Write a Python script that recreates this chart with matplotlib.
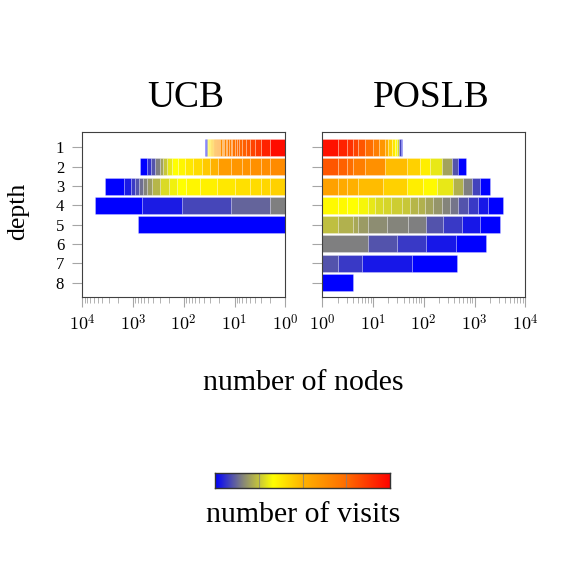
import numpy as np
import matplotlib
matplotlib.use('Agg')
import matplotlib.pyplot as plt
from matplotlib.colors import LinearSegmentedColormap
from matplotlib.ticker import LogLocator, FuncFormatter, NullFormatter

plt.rcParams['font.family'] = 'serif'
plt.rcParams['font.serif'] = ['Liberation Serif', 'DejaVu Serif']
plt.rcParams['mathtext.fontset'] = 'cm'

# 数据: 每个深度的节点组 (节点数, 访问次数等级 0..1), 从访问最多的开始
depths = [1, 2, 3, 4, 5, 6, 7, 8]

ucb_counts = [
    [1] * 37,
    [1, 1, 2, 2, 5, 9, 9, 14, 21, 30, 35, 43, 37, 42, 48, 69, 81, 88, 192],
    [1, 1, 2, 5, 12, 26, 42, 48, 62, 95, 125, 110, 100, 150, 135, 185, 410, 2060],
    [1, 10, 98, 547, 4963],
    [788],
    [], [], [],
]
ucb_levels = [
    [0.97, 0.92, 0.87, 0.84, 0.80, 0.78, 0.76, 0.75, 0.74, 0.72, 0.70, 0.69, 0.68,
     0.67, 0.66, 0.65, 0.64, 0.63, 0.62, 0.61, 0.60, 0.59, 0.58, 0.57, 0.52, 0.49,
     0.47, 0.45, 0.43, 0.41, 0.39, 0.37, 0.35, 0.33, 0.08, 0.04, 0.0],
    [0.64, 0.63, 0.62, 0.61, 0.60, 0.58, 0.50, 0.45, 0.41, 0.38, 0.35, 0.33, 0.30,
     0.25, 0.20, 0.15, 0.10, 0.06, 0.0],
    [0.43, 0.42, 0.41, 0.40, 0.38, 0.36, 0.35, 0.33, 0.31, 0.28, 0.23, 0.19, 0.16,
     0.13, 0.10, 0.07, 0.035, 0.0],
    [0.15, 0.12, 0.085, 0.035, 0.0],
    [0.0],
    [], [], [],
]

poslb_counts = [
    [1, 1, 1, 1, 2, 3, 3, 4, 3, 4, 3, 3, 3, 2, 2],
    [1, 1, 1, 3, 10, 29, 38, 48, 93, 130, 123, 199],
    [1, 1, 2, 11, 30, 52, 82, 202, 218, 279, 401, 735],
    [1, 1, 2, 3, 3, 5, 7, 14, 16, 25, 28, 48, 71, 103, 150, 255, 420, 712, 1825],
    [1, 2, 1, 3, 11, 29, 61, 133, 316, 722, 1935],
    [7, 21, 80, 316, 1235],
    [1, 4, 53, 386],
    [3],
]
poslb_levels = [
    [0.96, 0.92, 0.88, 0.84, 0.80, 0.74, 0.68, 0.60, 0.52, 0.44, 0.38, 0.33, 0.27, 0.08, 0.03],
    [0.80, 0.77, 0.74, 0.68, 0.62, 0.48, 0.43, 0.37, 0.30, 0.20, 0.10, 0.0],
    [0.56, 0.53, 0.51, 0.48, 0.43, 0.37, 0.34, 0.30, 0.22, 0.15, 0.08, 0.0],
    [0.34, 0.34, 0.33, 0.32, 0.30, 0.28, 0.27, 0.26, 0.25, 0.23, 0.22, 0.20, 0.18,
     0.16, 0.14, 0.10, 0.07, 0.03, 0.0],
    [0.24, 0.22, 0.21, 0.19, 0.17, 0.16, 0.15, 0.10, 0.07, 0.03, 0.0],
    [0.15, 0.10, 0.07, 0.03, 0.0],
    [0.10, 0.07, 0.03, 0.0],
    [0.0],
]

# 颜色映射
cmap = LinearSegmentedColormap.from_list('visits', [
    (0.0, (0, 0, 1)), (0.15, (0.5, 0.5, 0.5)), (0.33, (1, 1, 0)),
    (0.5, (1, 0.7, 0)), (0.75, (1, 0.42, 0)), (1.0, (1, 0, 0))])

fig = plt.figure(figsize=(5.75, 5.75), dpi=100)
W = H = 575.0
ax1 = fig.add_axes([82.3 / W, 1 - 297.3 / H, 203 / W, 165 / H])
ax2 = fig.add_axes([322.3 / W, 1 - 297.3 / H, 203 / W, 165 / H])


def draw(ax, counts, levels):
    for d, c, lv in zip(depths, counts, levels):
        if not c:
            continue
        right = 1 + np.cumsum(c)
        left = right - np.array(c)
        ax.barh(d, right - left, left=left, height=0.88, color=cmap(np.array(lv)),
                edgecolor=(1, 1, 1, 0.35), linewidth=0.5)


draw(ax1, ucb_counts, ucb_levels)
draw(ax2, poslb_counts, poslb_levels)

fmt = FuncFormatter(lambda v, p: r'$10^{%d}$' % round(np.log10(v)))
for ax in (ax1, ax2):
    ax.set_xscale('log')
    ax.set_ylim(8.76, 0.22)
    ax.set_yticks(depths)
    ax.xaxis.set_major_locator(LogLocator(base=10, numticks=10))
    ax.xaxis.set_minor_locator(LogLocator(base=10, subs=np.arange(2, 10), numticks=10))
    ax.xaxis.set_major_formatter(fmt)
    ax.xaxis.set_minor_formatter(NullFormatter())
    ax.tick_params(axis='both', which='both', direction='out', color='0.65')
    ax.tick_params(axis='x', which='major', length=7, labelsize=13, pad=5)
    ax.tick_params(axis='x', which='minor', length=4)
    ax.tick_params(axis='y', length=7, labelsize=12, pad=6)
    for s in ax.spines.values():
        s.set_color('0.25')
        s.set_linewidth(0.8)

ax1.set_xlim(1e4, 1e0)
ax2.set_xlim(1e0, 1e4)
ax2.set_yticklabels([])

fig.text(186 / W, 1 - 107 / H, 'UCB', fontsize=27, ha='center', va='baseline')
fig.text(431 / W, 1 - 107 / H, 'POSLB', fontsize=27, ha='center', va='baseline')
fig.text(18 / W, 1 - 211 / H, 'depth', fontsize=18.5, rotation=90, ha='center', va='center')
fig.text(303 / W, 1 - 383 / H, 'number of nodes', fontsize=21.5, ha='center', va='center')

# 颜色条
cax = fig.add_axes([215 / W, 1 - 488 / H, 175 / W, 15 / H])
grad = np.linspace(0, 1, 256).reshape(1, -1)
cax.imshow(grad, aspect='auto', cmap=cmap, extent=(0, 1, 0, 1))
for p in (0.25, 0.5, 0.75):
    cax.axvline(p, color='0.5', lw=0.8, alpha=0.7)
cax.set_xticks([])
cax.set_yticks([])
for s in cax.spines.values():
    s.set_color('0.2')
    s.set_linewidth(1.0)
fig.text(303 / W, 1 - 515 / H, 'number of visits', fontsize=21.5, ha='center', va='center')

fig.savefig('out.png', dpi=100)
